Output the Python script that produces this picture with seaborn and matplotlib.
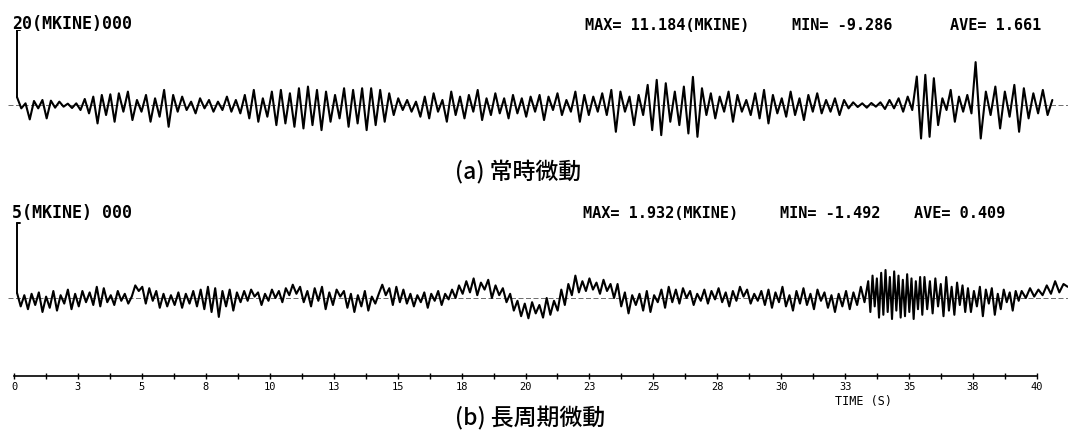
import numpy as np
import pandas as pd
import matplotlib
matplotlib.use("Agg")
import matplotlib.pyplot as plt
import seaborn as sns

# ---------------- data ----------------
# (a) 常時微動 : segment boundaries in seconds and the peak/trough values (mkine) inside each
top_bounds = [0.12, 2.6, 4.1, 6.4, 9.2, 15.2, 20.2, 23.0, 24.6, 26.9, 32.1, 35.3, 36.3, 37.6, 38.0, 40.6]
top_values = [
    [2.3, -1.0, 0.5, -4.3, 1.2, -1.0, 1.5, -4.0, 1.3, -0.8, 1.0, -0.5, 0.4, -0.9, 0.5],
    [-1.5, 1.8, -2.5, 2.5, -5.5, 3.0, -3.0, 3.2, -5.0],
    [3.5, -2.0, 4.0, -4.5, 1.5, -2.0, 3.0, -5.0, 2.0, -3.5, 4.5, -6.5, 3.0],
    [-2.0, 2.5, -1.5, 1.0, -2.5, 2.0, -1.0, 1.5, -2.0, 1.0, -1.5, 2.5, -2.0, 1.5, -2.5, 3.0],
    [-4.0, 4.5, -5.0, 2.0, -3.5, 4.0, -6.0, 4.5, -5.5, 3.5, -6.5, 5.0, -7.0, 5.5, -6.0, 4.5, -7.5,
     4.0, -5.0, 3.0, -4.0, 5.0, -6.5, 4.5, -5.5, 5.0, -7.5, 5.0, -6.0, 4.5, -5.0, 3.5, -3.0, 2.0],
    [-1.5, 1.5, -2.0, 1.0, -3.5, 2.5, -4.0, 3.5, -2.0, 1.5, -5.0, 4.0, -3.0, 2.5, -4.0, 3.0, -2.0,
     4.5, -4.5, 2.0, -3.0, 3.5, -2.5, 2.0, -4.0, 3.0, -2.5, 2.0, -3.5],
    [2.5, -2.0, 3.0, -4.5, 2.5, -1.5, 3.5, -3.0, 1.5, -2.0, 4.0, -5.0, 3.0, -3.0, 2.5, -2.0],
    [3.5, -3.0, 4.5, -8.0, 4.0, -2.0, 2.5, -6.0, 3.0],
    [-3.0, 6.0, -7.5, 7.5, -9.0, 6.5, -5.0, 4.0, -6.0, 5.5, -8.5, 8.4, -9.5],
    [5.0, -3.0, 3.5, -4.0, 2.5, -2.0, 4.0, -5.0, 3.0, -2.0, 1.5, -3.0, 3.5, -4.0, 4.5, -5.5, 3.0,
     -2.5, 2.0, -3.5, 4.0, -3.0, 2.0, -4.5, 3.0, -2.0, 3.5, -2.5, 1.5, -2.0],
    [2.0, -3.0, 1.5, -1.0, 0.8, -0.6, 0.5, -0.8, 0.6, -0.5, 0.8, -1.2, 1.5, -1.0, 2.0, -2.0, 2.5, -1.5],
    [8.5, -10.0, 9.0, -9.5, 8.0, -6.0],
    [2.0, -1.5, 4.5, -5.0, 2.5, -2.0, 3.0, -2.5],
    [12.8, -10.0],
    [4.0, -3.0, 5.5, -7.0, 4.0, -3.5, 6.0, -8.0, 5.0, -4.0, 3.5, -2.5, 4.5, -3.0, 1.5],
]

# (b) 長周期微動
bot_bounds = [0.12, 3.1, 5.7, 7.3, 9.0, 10.9, 12.9, 14.4, 15.5, 17.4, 19.4, 21.4, 23.6, 25.6,
              29.5, 32.1, 33.4, 35.6, 37.3, 39.4, 41.2]
bot_values = [
    [0.35, -0.6, 0.2, -0.8, 0.3, -0.5, 0.4, -1.0, 0.1, -0.7, 0.5, -0.9, 0.2, -0.4, 0.6, -0.8, 0.3,
     -0.6, 0.5, -0.3, 0.4],
    [-0.5, 0.8, -0.6, 0.7, -0.3, 0.2, -0.5, 0.5, -0.2, 0.3, -0.4, 0.1, 0.9, 0.5, 0.8, -0.4, 0.7, -0.2, 0.5],
    [-0.7, 0.3, -0.6, 0.2, -0.5, 0.4, -0.7, 0.3, -0.4, 0.5, -0.6],
    [0.6, -0.8, 0.8, -1.0, 0.7, -1.35, 0.5, -0.6, 0.6, -0.9, 0.4, -0.3],
    [0.5, -0.2, 0.6, 0.1, 0.4, -0.5, 0.3, -0.2, 0.6, 0.0, 0.5, -0.3, 0.7, 0.2],
    [0.95, 0.3, 0.8, -0.3, 0.5, -0.6, 0.7, -0.2, 0.8, -0.8, 0.4, -0.5, 0.6, 0.1],
    [0.5, -0.7, 0.3, -1.0, 0.2, -0.6, 0.5, -0.9, 0.1, -0.4, 0.3],
    [0.95, 0.2, 0.7, -0.5, 0.8, -0.3, 0.6, -0.4],
    [0.3, -0.6, 0.2, -0.3, 0.4, -0.7, 0.3, -0.2, 0.5, -0.5, 0.3, -0.1, 0.6, 0.0],
    [0.9, 0.3, 1.2, 0.4, 1.4, 0.2, 1.1, 0.6, 1.3, 0.0, 0.9, 0.2, 0.7, -0.3],
    [0.3, -0.9, -0.2, -1.3, -0.4, -1.45, -0.3, -1.1, -0.5, -1.4, 0.0, -1.2, -0.2, -0.9],
    [0.6, -0.5, 1.0, 0.2, 1.6, 0.4, 1.2, 0.5, 1.4, 0.6, 1.1, 0.3, 1.3, 0.5, 1.0, 0.0],
    [1.0, -0.6, 0.4, -1.1, 0.2, -0.5, 0.3, -0.9, 0.5, -1.0, 0.2, -0.3, 0.6, -0.7],
    [0.8, -0.3, 0.6, -0.4, 0.7, 0.0, 0.5, -0.5, 0.3, -0.2, 0.6, -0.4, 0.5, -0.1, 0.7, -0.3, 0.4,
     -0.6, 0.5, -0.2, 0.8, 0.1, 0.6, -0.4, 0.3, -0.2, 0.5, -0.5],
    [0.6, -0.7, 0.4, -0.3, 0.8, -0.6, 0.2, -0.9, 0.5, -0.4, 0.7, -0.5, 0.3, -0.8, 0.6, -0.2, 0.4, -0.7, 0.2],
    [-1.0, 0.3, -0.6, 0.5, -0.8, 0.4, -0.5, 0.8, -0.3],
    [1.2, -1.0, 1.6, -0.6, 1.4, -1.4, 1.8, -1.2, 2.0, -1.0, 1.5, -1.5, 1.9, -0.9, 1.6, -1.4, 1.3,
     -1.3, 1.7, -1.0, 1.4, -1.5, 1.2, -0.8, 1.5, -1.2],
    [1.5, -0.8, 1.2, -1.1, 1.4, -0.6, 1.0, -1.3, 1.5, -0.9, 0.8, -1.2, 1.1, -0.5, 0.9, -1.0],
    [0.7, -1.0, 0.5, -0.6, 0.8, -1.3, 0.6, -0.4, 0.7, -1.2, 0.3, -0.8, 0.6, -0.3, 0.4, -0.9, 0.5, -0.2],
    [0.5, 0.0, 0.7, 0.1, 0.6, 0.2, 0.9, 0.3, 1.2, 0.4, 1.0, 0.8],
]

tick_values = [0, 2.5, 5, 7.5, 10, 12.5, 15, 17.5, 20, 22.5, 25, 27.5, 30, 32.5, 35, 37.5, 40]
tick_labels = ["0", "3", "5", "8", "10", "13", "15", "18", "20", "23", "25", "28",
               "30", "33", "35", "38", "40"]

top_scale = 20      # scale bar (mkine)
bot_scale = 5
top_label = "20(MKINE)000"
bot_label = "5(MKINE) 000"
top_stats = ["MAX= 11.184(MKINE)", "MIN= -9.286", "AVE= 1.661"]
bot_stats = ["MAX= 1.932(MKINE)", "MIN= -1.492", "AVE= 0.409"]
cap_a = "(a) 常時微動"
cap_b = "(b) 長周期微動"


def build(bounds, values):
    ts, vs = [], []
    n = len(values)
    for i, seg in enumerate(values):
        last = i == n - 1
        ts.append(np.linspace(bounds[i], bounds[i + 1], len(seg), endpoint=last))
        vs.append(np.asarray(seg, dtype=float))
    return pd.DataFrame({"t": np.concatenate(ts), "v": np.concatenate(vs)})


top_df = build(top_bounds, top_values)
bot_df = build(bot_bounds, bot_values)

# ---------------- figure ----------------
sns.set_theme(style="white")
plt.rcParams["font.family"] = ["DejaVu Sans Mono", "DejaVu Sans"]
plt.rcParams["text.color"] = "black"
plt.rcParams["xtick.color"] = "black"

W, H = 1070, 432
fig = plt.figure(figsize=(W / 100, H / 100), dpi=100)
fig.patch.set_facecolor("white")

PX_PER_S = 1023 / 40.0
x_left_px, x_right_px = 8, 1068
xlim = ((x_left_px - 14) / PX_PER_S, (x_right_px - 14) / PX_PER_S)


def add_axes_px(x0, y0, x1, y1):
    return fig.add_axes([x0 / W, 1 - y1 / H, (x1 - x0) / W, (y1 - y0) / H])


# top trace: centre at y=105 px, 3.35 px per mkine
ax1 = add_axes_px(x_left_px, 30, x_right_px, 145)
ax1.set_xlim(*xlim)
ax1.set_ylim(-(145 - 105) / 3.35, (105 - 30) / 3.35)

# bottom trace: centre at y=298 px, 14 px per mkine
ax2 = add_axes_px(x_left_px, 215, x_right_px, 376)
ax2.set_xlim(*xlim)
ax2.set_ylim(-(376 - 298) / 14.0, (298 - 215) / 14.0)

for ax in (ax1, ax2):
    ax.set_facecolor("none")
    ax.axhline(0, color="#555555", lw=0.6, ls=(0, (6, 3)), zorder=1)

sns.lineplot(data=top_df, x="t", y="v", ax=ax1, color="black", lw=1.5,
             sort=False, estimator=None, zorder=3)
sns.lineplot(data=bot_df, x="t", y="v", ax=ax2, color="black", lw=1.5,
             sort=False, estimator=None, zorder=3)

# scale bars
t0 = top_bounds[0]
base1 = top_values[0][0]
ax1.plot([t0, t0], [base1, base1 + top_scale], color="black", lw=1.4)
ax1.plot([t0, t0 + 0.12], [base1 + top_scale, base1 + top_scale], color="black", lw=1.4)
base2 = bot_values[0][0]
ax2.plot([t0, t0], [base2, base2 + bot_scale], color="black", lw=1.4)
ax2.plot([t0, t0 + 0.12], [base2 + bot_scale, base2 + bot_scale], color="black", lw=1.4)

for ax in (ax1, ax2):
    ax.set_xlabel("")
    ax.set_ylabel("")
    ax.set_yticks([])
    for s in ax.spines.values():
        s.set_visible(False)
ax1.set_xticks([])

# time axis = bottom spine of lower panel
sp = ax2.spines["bottom"]
sp.set_visible(True)
sp.set_color("black")
sp.set_linewidth(1.2)
sp.set_bounds(0, 40)
ax2.set_xticks(tick_values)
ax2.set_xticklabels(tick_labels)
ax2.set_xticks([v + 1.25 for v in tick_values[:-1]], minor=True)
ax2.tick_params(axis="x", which="both", direction="inout", length=4, width=1.0,
                color="black", bottom=True, pad=2, labelsize=7.5, labelcolor="black")

# texts
mono = ["DejaVu Sans Mono", "DejaVu Sans"]
cjk = ["Noto Sans CJK JP", "DejaVu Sans"]
fig.text(12 / W, 1 - 24 / H, top_label, family=mono, fontsize=12, fontweight="bold",
         va="center", ha="left", color="black")
fig.text(12 / W, 1 - 213 / H, bot_label, family=mono, fontsize=12, fontweight="bold",
         va="center", ha="left", color="black")
for s, xp in zip(top_stats, [585, 792, 950]):
    fig.text(xp / W, 1 - 25 / H, s, family=mono, fontsize=11, fontweight="bold",
             va="center", ha="left", color="black")
for s, xp in zip(bot_stats, [583, 780, 914]):
    fig.text(xp / W, 1 - 213 / H, s, family=mono, fontsize=11, fontweight="bold",
             va="center", ha="left", color="black")
fig.text(835 / W, 1 - 401 / H, "TIME (S)", family=mono, fontsize=8.5,
         va="center", ha="left", color="black")
fig.text(455 / W, 1 - 172 / H, cap_a, family=cjk, fontsize=16.5, fontweight="medium",
         va="center", ha="left", color="black")
fig.text(455 / W, 1 - 418 / H, cap_b, family=cjk, fontsize=16.5, fontweight="medium",
         va="center", ha="left", color="black")

fig.savefig("out.png", dpi=100, facecolor="white")
